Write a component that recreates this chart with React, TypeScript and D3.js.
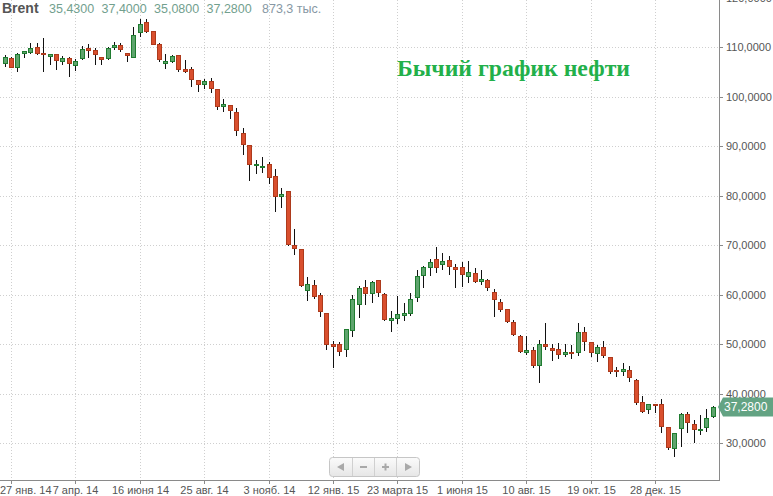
import * as d3 from "d3";

const opens = [
  106.7, 107.84, 105.9, 108.85, 108.9, 109.94, 108.8, 108.25, 108.5, 107.2,
  107.84, 106.4, 107.7, 109.74, 109.46, 107.9, 107.7, 109.94, 110.47, 108.85,
  108.05, 112.97, 115.0, 113.2, 110.7, 106.8, 107.2, 108.4, 105.6, 105.5,
  103.3, 102.5, 103.1, 101.5, 98.0, 98.2, 96.8, 92.6, 90.2, 86.1,
  85.7, 86.4, 83.9, 79.8, 80.9, 70.1, 69.2, 60.9, 61.9, 59.8,
  56.2, 50.0, 50.0, 48.9, 52.8, 58.0, 61.45, 60.3, 62.9, 60.1,
  54.9, 55.3, 55.9, 56.3, 59.4, 64.0, 65.6, 67.1, 66.2, 67.0,
  65.5, 65.5, 63.8, 64.3, 62.8, 63.0, 60.45, 58.4, 57.0, 54.4,
  51.6, 48.4, 48.8, 45.7, 50.0, 49.2, 48.9, 47.9, 48.45, 48.3,
  52.5, 50.5, 48.1, 49.3, 47.3, 44.8, 44.6, 44.8, 42.75, 38.2,
  36.8, 37.9, 37.8, 33.2, 28.9, 33.0, 35.9, 33.9, 32.6, 33.3,
  35.43,
];
const highs = [
  108.4, 108.0, 108.85, 109.1, 110.75, 110.75, 111.76, 108.5, 108.5, 108.2,
  108.05, 107.6, 110.2, 110.6, 109.86, 107.9, 109.94, 111.0, 110.75, 108.85,
  114.1, 115.6, 115.6, 113.2, 110.8, 108.6, 108.4, 108.4, 107.4, 105.9,
  103.3, 103.5, 103.7, 101.5, 99.5, 98.2, 97.7, 93.7, 90.2, 87.2,
  87.7, 86.7, 85.3, 81.5, 80.9, 73.2, 69.2, 63.6, 62.9, 60.4,
  56.2, 50.7, 50.5, 53.0, 59.9, 61.7, 62.9, 62.7, 62.9, 60.4,
  56.65, 59.6, 58.3, 60.4, 64.95, 65.75, 67.1, 69.5, 68.3, 67.8,
  66.2, 66.65, 66.8, 65.3, 64.95, 63.2, 61.05, 59.0, 57.0, 54.8,
  51.8, 51.6, 49.45, 50.8, 54.3, 50.0, 50.3, 50.1, 49.8, 54.2,
  53.4, 50.5, 49.8, 50.7, 47.3, 45.35, 46.2, 45.6, 42.9, 39.5,
  37.8, 37.9, 38.9, 33.2, 32.0, 36.1, 36.35, 34.6, 35.6, 36.8,
  37.4,
];
const lows = [
  105.9, 105.9, 104.9, 107.7, 108.5, 108.4, 104.9, 106.4, 105.4, 106.4,
  104.0, 105.2, 107.4, 107.7, 106.4, 106.4, 107.4, 109.3, 109.06, 107.0,
  107.84, 112.1, 112.8, 110.5, 106.9, 105.6, 106.8, 105.0, 104.7, 102.0,
  101.0, 101.5, 100.8, 97.3, 96.9, 95.5, 92.0, 88.2, 83.0, 84.3,
  84.6, 82.3, 76.7, 77.5, 69.7, 67.9, 61.6, 58.6, 59.1, 55.5,
  48.8, 45.1, 47.6, 47.4, 51.4, 55.2, 57.9, 58.2, 59.55, 54.65,
  52.5, 54.05, 54.65, 55.65, 58.55, 61.4, 63.75, 64.3, 64.95, 63.95,
  61.25, 61.6, 62.4, 62.4, 61.9, 60.7, 55.5, 56.4, 54.3, 51.6,
  48.25, 47.8, 45.1, 42.2, 48.8, 46.6, 47.0, 47.4, 46.9, 47.6,
  48.65, 47.4, 46.45, 47.1, 43.9, 43.3, 43.5, 42.4, 37.7, 36.1,
  35.9, 36.1, 32.1, 28.6, 27.1, 29.25, 32.1, 29.9, 31.6, 32.3,
  35.08,
];
const closes = [
  108.0, 106.0, 108.65, 109.1, 109.74, 108.8, 108.5, 108.5, 107.4, 107.84,
  106.8, 107.1, 109.66, 109.4, 108.65, 107.64, 109.74, 110.4, 109.66, 108.4,
  112.43, 114.6, 113.3, 110.7, 107.5, 107.2, 108.2, 105.6, 105.2, 103.6,
  102.5, 103.1, 101.8, 98.0, 98.4, 97.2, 93.2, 90.5, 86.3, 86.4,
  85.9, 83.8, 79.8, 80.3, 70.3, 69.3, 61.9, 62.1, 59.6, 56.7,
  50.1, 49.6, 48.65, 53.0, 59.0, 61.25, 60.4, 62.5, 60.6, 55.05,
  55.25, 56.0, 56.3, 59.0, 63.7, 65.5, 66.5, 65.6, 66.8, 65.8,
  65.2, 64.1, 64.55, 62.8, 63.15, 61.45, 59.15, 57.1, 54.7, 52.1,
  48.6, 48.8, 45.7, 50.0, 49.5, 48.85, 47.9, 48.45, 48.1, 52.4,
  50.7, 48.3, 49.35, 47.8, 44.6, 44.5, 44.95, 43.3, 38.35, 36.5,
  37.8, 37.6, 33.5, 29.2, 32.0, 35.9, 34.3, 32.9, 32.9, 35.0,
  37.28,
];

// one candle per week, Monday dates
const firstWeek = new Date(2014, 0, 20);
const lastWeek = new Date(2016, 1, 29);
const weeks = d3.timeMonday.range(firstWeek, d3.timeDay.offset(lastWeek, 1));

const tickDates = [
  "2014-01-27", "2014-04-07", "2014-06-16", "2014-08-25", "2014-11-03", "2015-01-12",
  "2015-03-23", "2015-06-01", "2015-08-10", "2015-10-19", "2015-12-28",
];
const tickLabels = [
  "27 янв. 14", "7 апр. 14", "16 июня 14", "25 авг. 14", "3 нояб. 14", "12 янв. 15",
  "23 марта 15", "1 июня 15", "10 авг. 15", "19 окт. 15", "28 дек. 15",
];
const priceTicks = [30, 40, 50, 60, 70, 80, 90, 100, 110, 120];

const headerValues = ["35,4300", "37,4000", "35,0800", "37,2800"];
const volumeText = "873,3 тыс.";
const lastPrice = 37.28;

const W = 773;
const H = 496;
const plotRight = 719;
const plotBottom = 480;
const font = "'Liberation Sans', Arial, sans-serif";

const fmt = (v: number) => v.toFixed(4).replace(".", ",");

export default function App() {
  const parse = d3.timeParse("%Y-%m-%d");
  const x = d3.scaleTime().domain([weeks[0], weeks[weeks.length - 1]]).range([4.5, 712.9]);
  const y = d3.scaleLinear().domain([30, 110]).range([443, 47]);

  const candles = weeks.map((d, i) => ({
    date: d,
    o: opens[i],
    h: highs[i],
    l: lows[i],
    c: closes[i],
  }));

  const ly = y(lastPrice);

  return (
    <div style={{ position: "fixed", left: 0, top: 0 }}>
      <svg width={W} height={H} style={{ display: "block", background: "#fff" }}>
        <defs>
          <linearGradient id="navGrad" x1="0" y1="0" x2="0" y2="1">
            <stop offset="0" stopColor="#fbfbfb" />
            <stop offset="1" stopColor="#e6e6e6" />
          </linearGradient>
          <clipPath id="plotClip">
            <rect x={0} y={0} width={plotRight} height={plotBottom} />
          </clipPath>
        </defs>

        {/* grid */}
        <g stroke="#cfcfcf" strokeDasharray="1,2" strokeWidth={1}>
          {priceTicks.map((t) => (
            <line key={t} x1={0} x2={plotRight} y1={Math.round(y(t)) + 0.5} y2={Math.round(y(t)) + 0.5} />
          ))}
          {tickDates.map((t) => {
            const xx = Math.round(x(parse(t)!)) + 0.5;
            return <line key={t} x1={xx} x2={xx} y1={0} y2={plotBottom} />;
          })}
        </g>

        {/* candles */}
        <g clipPath="url(#plotClip)">
          {candles.map((d, i) => {
            const cx = Math.round(x(d.date));
            const up = d.c >= d.o;
            const top = Math.round(y(Math.max(d.o, d.c)));
            const bot = Math.round(y(Math.min(d.o, d.c)));
            const fill = up ? "#5ea46d" : "#d94f2e";
            const stroke = up ? "#1f7c30" : "#ad3a1c";
            return (
              <g key={i}>
                <line
                  x1={cx + 0.5}
                  x2={cx + 0.5}
                  y1={Math.round(y(d.h))}
                  y2={Math.round(y(d.l))}
                  stroke="#111"
                  strokeWidth={1}
                />
                <rect
                  x={cx - 2 + 0.5}
                  y={top + 0.5}
                  width={4}
                  height={Math.max(1, bot - top)}
                  fill={fill}
                  stroke={stroke}
                  strokeWidth={1}
                />
              </g>
            );
          })}
        </g>

        {/* axes */}
        <line x1={plotRight + 0.5} x2={plotRight + 0.5} y1={0} y2={plotBottom + 1} stroke="#8a8a8a" />
        <line x1={0} x2={plotRight + 1} y1={plotBottom + 0.5} y2={plotBottom + 0.5} stroke="#8a8a8a" />

        <g fontFamily={font} fontSize={11} fill="#555">
          {priceTicks.map((t) => {
            const yy = Math.round(y(t)) + 0.5;
            return (
              <g key={t}>
                <line x1={plotRight} x2={plotRight + 4} y1={yy} y2={yy} stroke="#8a8a8a" />
                <text x={726} y={yy} dy="0.35em">
                  {fmt(t)}
                </text>
              </g>
            );
          })}
          {tickDates.map((t, i) => {
            const xx = Math.round(x(parse(t)!)) + 0.5;
            return (
              <g key={t}>
                <line x1={xx} x2={xx} y1={plotBottom} y2={plotBottom + 4} stroke="#8a8a8a" />
                <text
                  x={i === 0 ? 0 : xx}
                  y={494}
                  textAnchor={i === 0 ? "start" : "middle"}
                >
                  {tickLabels[i]}
                </text>
              </g>
            );
          })}
        </g>

        {/* last price marker */}
        <path
          d={`M${plotRight - 1},${ly} L${plotRight + 4},${ly - 9.5} L${W},${ly - 9.5} L${W},${ly + 9.5} L${plotRight + 4},${ly + 9.5} Z`}
          fill="#63a383"
        />
        <text x={724} y={ly} dy="0.36em" fontFamily={font} fontSize={12} fill="#fff">
          {fmt(lastPrice)}
        </text>

        {/* header */}
        <text x={2} y={13} fontFamily={font} fontSize={14} fontWeight="bold" fill="#555">
          Brent
        </text>
        <g fontFamily={font} fontSize={12.5} fill="#72a08e">
          {headerValues.map((v, i) => (
            <text key={i} x={49 + i * 52.5} y={13}>
              {v}
            </text>
          ))}
          <text x={262} y={13} fill="#8798a4">
            {volumeText}
          </text>
        </g>

        {/* title */}
        <text
          x={397}
          y={76}
          fontFamily="'Liberation Serif', 'DejaVu Serif', serif"
          fontWeight="bold"
          fontSize={23}
          fill="#22b04a"
          textLength={233}
          lengthAdjust="spacingAndGlyphs"
        >
          Бычий график нефти
        </text>

        {/* navigator buttons */}
        <g>
          <rect x={329.5} y={457.5} width={90} height={19} rx={3} fill="url(#navGrad)" stroke="#c6c6c6" />
          {[352.5, 374.5, 396.5].map((xx) => (
            <line key={xx} x1={xx} x2={xx} y1={458} y2={476} stroke="#d0d0d0" />
          ))}
          <path d="M337,467 L344,463 L344,471 Z" fill="#a9a9a9" />
          <rect x={360} y={466} width={7} height={2} fill="#a9a9a9" />
          <rect x={382} y={466} width={7} height={2} fill="#a9a9a9" />
          <rect x={384.5} y={463.5} width={2} height={7} fill="#a9a9a9" />
          <path d="M412,467 L405,463 L405,471 Z" fill="#a9a9a9" />
        </g>
      </svg>
    </div>
  );
}
